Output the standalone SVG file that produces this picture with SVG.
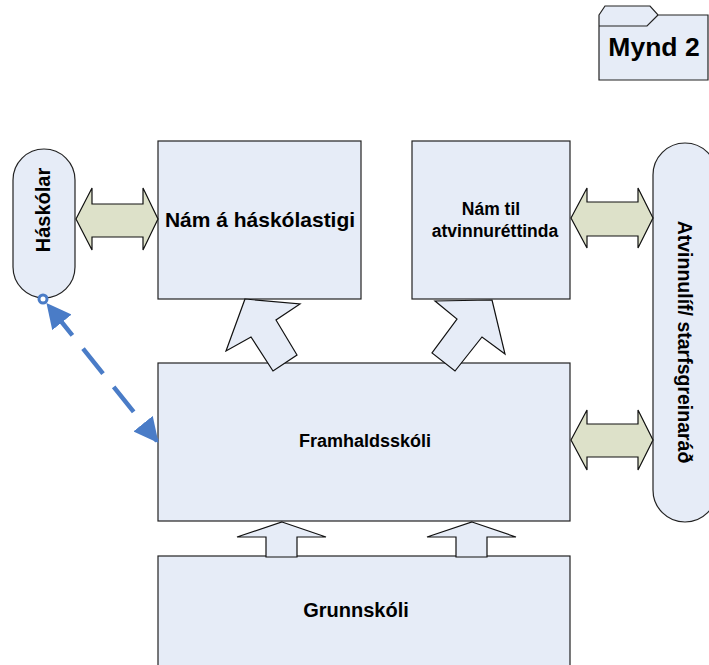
<svg xmlns="http://www.w3.org/2000/svg" width="709" height="665" viewBox="0 0 709 665">
<defs>
<style>
.box{fill:#e6ecf7;stroke:#222;stroke-width:1.2}
.blk{fill:#e6ecf7;stroke:#111;stroke-width:1.2;stroke-linejoin:miter}
.dbl{fill:#dde1c9;stroke:#111;stroke-width:1.2}
.t{font-family:"Liberation Sans",Arial,sans-serif;font-weight:bold;font-size:17.5px;fill:#000;text-anchor:middle}
.con{stroke:#4a7cc7;stroke-width:4.5;fill:none}
</style>
<marker id="ah" viewBox="0 0 10 10" refX="9" refY="5" markerWidth="5.5" markerHeight="5.5" orient="auto-start-reverse" markerUnits="strokeWidth">
<path d="M0,0 L10,5 L0,10 Z" fill="#4a7cc7"/>
</marker>
</defs>
<rect width="709" height="665" fill="#fff"/>

<g id="mynd2">
<path d="M599,15 L605,6 L650,6 L658,15 L708,15 L708,80 L599,80 Z" fill="#e6ecf7" stroke="#222" stroke-width="1.2"/>
<path d="M599,26 L647,26 L658,15" fill="none" stroke="#222" stroke-width="1.2"/>
<text x="654" y="56" class="t" style="font-size:26.5px">Mynd 2</text>
</g>

<g id="haskolar">
<rect x="13" y="149" width="62" height="149" rx="31" ry="31" class="box"/>
<text class="t" style="font-size:20px" transform="translate(50,210) rotate(-90)">Háskólar</text>
</g>

<g id="nam-haskolastigi">
<rect x="158" y="141" width="203" height="158" class="box"/>
<text x="260" y="227" class="t" style="font-size:21px">Nám á háskólastigi</text>
</g>

<g id="nam-atvinnurettinda">
<rect x="412" y="141" width="158" height="158" class="box"/>
<text x="491" y="215" class="t">Nám til</text>
<text x="495" y="237" class="t">atvinnuréttinda</text>
</g>

<g id="atvinnulif">
<rect x="653" y="143" width="64" height="379" rx="32" ry="32" class="box"/>
<text class="t" style="font-size:19.5px" transform="translate(678,342) rotate(90)">Atvinnulíf/ starfsgreinaráð</text>
</g>

<g id="framhaldsskoli">
<rect x="158" y="363" width="412" height="158" class="box"/>
<text x="365" y="447" class="t" style="font-size:18px">Framhaldsskóli</text>
</g>

<g id="grunnskoli">
<rect x="158" y="556" width="412" height="115" class="box"/>
<text x="356" y="617" class="t" style="font-size:20px">Grunnskóli</text>
</g>

<g id="connectors">
<path class="dbl" d="M76,219 L92,188 L92,204 L143,204 L143,188 L158,219 L143,250 L143,237 L92,237 L92,250 Z"/>
<path class="dbl" d="M571,218 L587,188 L587,202 L638,202 L638,188 L653,218 L638,248 L638,236 L587,236 L587,248 Z"/>
<path class="dbl" d="M571,440 L587,410 L587,424 L638,424 L638,410 L653,440 L638,470 L638,457 L587,457 L587,470 Z"/>
<path class="blk" d="M245,299 L300,304 L276,320 L297,355 L273,371 L251,337 L226,351 Z"/>
<path class="blk" d="M492,300 L505,354 L482,337 L455,371 L432,353 L457,319 L435,301 Z"/>
<path class="blk" d="M282,522 L326,537 L297,537 L297,557 L266,557 L266,537 L237,537 Z"/>
<path class="blk" d="M472,522 L516,537 L487,537 L487,557 L456,557 L456,537 L427,537 Z"/>
<line x1="48" y1="305" x2="157" y2="441" class="con" stroke-dasharray="0 9 30 17 32 17 32 17 40" marker-start="url(#ah)" marker-end="url(#ah)"/>
<circle cx="43" cy="299" r="4" fill="#fff" stroke="#4a7cc7" stroke-width="3"/>
</g>
</svg>
